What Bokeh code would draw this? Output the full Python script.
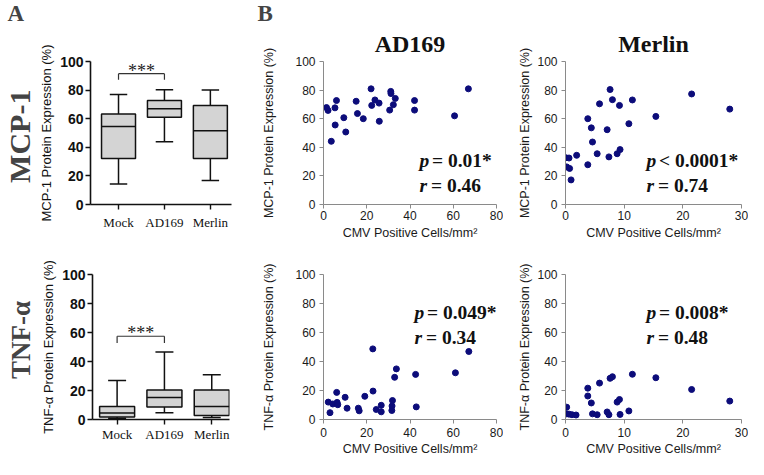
import math
from bokeh.plotting import figure
from bokeh.models import Label, FixedTicker, Range1d
from bokeh.layouts import row, column
from bokeh.embed import file_html
from bokeh.resources import INLINE

# ---------------- data ----------------
box_labels = ["Mock", "AD169", "Merlin"]
box_pos = [0, 1, 2]

mcp_min = [14.4, 43.8, 16.7]
mcp_q1 = [32.2, 61.0, 32.2]
mcp_med = [54.6, 67.0, 51.6]
mcp_q3 = [63.3, 72.7, 69.3]
mcp_max = [77.0, 80.3, 80.0]

tnf_min = [0.9, 4.6, 1.3]
tnf_q1 = [1.7, 8.6, 2.8]
tnf_med = [4.5, 15.2, 8.9]
tnf_q3 = [9.0, 20.3, 20.3]
tnf_max = [26.9, 46.5, 30.8]

mcp_bracket = [91.5, 87.3]   # bracket level, bracket tick end
tnf_bracket = [57.4, 52.8]
mcp_star_y = 93.5
tnf_star_y = 59.5

ad_mcp_x = [1.4, 2.1, 3.6, 5.3, 5.4, 6.0, 9.4, 10.3, 15.1, 15.7, 18.4, 22.0, 22.3,
            23.8, 25.7, 25.8, 30.6, 31.1, 31.2, 32.3, 33.2, 42.1, 42.1, 60.6, 67.0]
ad_mcp_y = [67.8, 65.8, 44.2, 67.6, 55.6, 72.7, 60.7, 50.7, 72.2, 63.6, 60.0, 80.9, 69.3,
            73.1, 70.9, 58.2, 66.0, 79.1, 77.6, 69.8, 74.2, 72.7, 66.0, 62.0, 80.9]

me_mcp_x = [0.06, 0.6, 0.2, 0.7, 0.95, 1.9, 3.8, 3.8, 4.4, 4.6, 5.4, 5.8, 7.1, 7.4,
            7.6, 8.0, 8.8, 9.2, 9.3, 10.8, 11.4, 15.4, 21.5, 28.0]
me_mcp_y = [32.7, 32.5, 26.3, 25.2, 17.2, 34.4, 60.0, 27.8, 53.6, 43.7, 35.5, 70.4, 52.3, 33.3,
            80.4, 73.3, 35.5, 69.3, 38.4, 56.5, 73.1, 61.6, 77.3, 66.7]

ad_tnf_x = [2.2, 3.0, 4.3, 6.1, 6.3, 6.6, 10.0, 10.9, 16.1, 16.5, 19.1, 22.8, 22.9,
            24.4, 26.7, 26.7, 31.6, 31.7, 31.9, 32.9, 33.7, 42.6, 42.9, 61.0, 67.2]
ad_tnf_y = [12.0, 4.7, 10.7, 18.7, 11.8, 10.2, 15.3, 7.8, 7.8, 6.0, 16.0, 48.7, 19.6,
            6.9, 9.8, 5.3, 6.2, 9.3, 13.1, 29.1, 34.9, 31.1, 8.7, 32.2, 46.9]

me_tnf_x = [0.2, 0.2, 0.6, 1.1, 1.8, 3.8, 3.8, 4.4, 4.6, 5.4, 5.8, 7.1, 7.4, 7.6,
            8.0, 8.8, 9.2, 9.3, 10.8, 11.4, 15.4, 21.5, 28.0]
me_tnf_y = [8.5, 3.9, 3.7, 3.3, 3.1, 21.6, 16.2, 11.4, 3.9, 3.3, 25.1, 5.2, 3.3, 28.4,
            29.5, 12.0, 13.8, 3.5, 5.9, 31.2, 28.8, 20.7, 12.7]

stats = {
    "ad_mcp": ("=", "0.01", "0.46"),
    "me_mcp": ("<", "0.0001", "0.74"),
    "ad_tnf": ("=", "0.049", "0.34"),
    "me_tnf": ("=", "0.008", "0.48"),
}

panel_letters = ["A", "B"]
row_titles = ["MCP-1", "TNF-α"]
col_titles = ["AD169", "Merlin"]

SERIF = "Liberation Serif"
SANS = "Liberation Sans"
DOT = "#0c0c7a"


def make_fig(ox, oy, w, h, bl, br, bt, bb, xr, yr, axes=True):
    kw = {}
    if not axes:
        kw = dict(x_axis_location=None, y_axis_location=None)
    p = figure(width=w, height=h, min_border_left=bl, min_border_right=br,
               min_border_top=bt, min_border_bottom=bb,
               x_range=Range1d(*xr), y_range=Range1d(*yr),
               output_backend="svg", toolbar_location=None, tools="", **kw)
    p.outline_line_color = None
    p.grid.visible = False
    p.background_fill_color = "white"
    p.border_fill_color = "white"
    fl, fr = ox + bl, ox + w - br
    ft, fb = oy + bt, oy + h - bb

    def px(x):
        return xr[0] + (x - fl) / (fr - fl) * (xr[1] - xr[0])

    def py(y):
        return yr[0] + (fb - y) / (fb - ft) * (yr[1] - yr[0])
    return p, px, py


def style_box_axes(p, ylabel, xstand):
    for ax in (p.xaxis[0], p.yaxis[0]):
        ax.axis_line_color = "#111111"
        ax.axis_line_width = 1.6
        ax.major_tick_line_color = "#111111"
        ax.major_tick_line_width = 1.4
        ax.major_tick_out = 5
        ax.major_tick_in = 0
        ax.minor_tick_line_color = None
    p.yaxis.ticker = FixedTicker(ticks=[0, 20, 40, 60, 80, 100])
    p.yaxis.major_label_text_font = SANS
    p.yaxis.major_label_text_font_style = "bold"
    p.yaxis.major_label_text_font_size = "14px"
    p.yaxis.major_label_text_color = "#111111"
    p.yaxis.major_label_standoff = 2
    p.yaxis.axis_label = ylabel
    p.yaxis.axis_label_text_font = SANS
    p.yaxis.axis_label_text_font_style = "normal"
    p.yaxis.axis_label_text_font_size = "13px"
    p.yaxis.axis_label_text_color = "#111111"
    p.yaxis.axis_label_standoff = 3
    p.xaxis.ticker = FixedTicker(ticks=box_pos)
    p.xaxis.major_label_overrides = {k: v for k, v in zip(box_pos, box_labels)}
    p.xaxis.major_label_text_font = SERIF
    p.xaxis.major_label_text_font_size = "13px"
    p.xaxis.major_label_text_color = "#111111"
    p.xaxis.major_label_standoff = xstand


def draw_box(p, mn, q1, med, q3, mx, bracket, star_y):
    bw, cw = 0.74, 0.38
    lw = 1.5
    p.segment(x0=box_pos, y0=mn, x1=box_pos, y1=q1, line_color="#111111", line_width=lw)
    p.segment(x0=box_pos, y0=q3, x1=box_pos, y1=mx, line_color="#111111", line_width=lw)
    p.segment(x0=[x - cw / 2 for x in box_pos], y0=mn, x1=[x + cw / 2 for x in box_pos], y1=mn,
              line_color="#111111", line_width=lw)
    p.segment(x0=[x - cw / 2 for x in box_pos], y0=mx, x1=[x + cw / 2 for x in box_pos], y1=mx,
              line_color="#111111", line_width=lw)
    p.vbar(x=box_pos, width=bw, bottom=q1, top=q3, fill_color="#d4d4d4",
           line_color="#111111", line_width=lw)
    p.segment(x0=[x - bw / 2 for x in box_pos], y0=med, x1=[x + bw / 2 for x in box_pos], y1=med,
              line_color="#111111", line_width=lw)
    top, low = bracket
    p.segment(x0=[box_pos[0], box_pos[0], box_pos[1]], y0=[top, top, top],
              x1=[box_pos[1], box_pos[0], box_pos[1]], y1=[top, low, low],
              line_color="#333333", line_width=1.2)
    p.add_layout(Label(x=(box_pos[0] + box_pos[1]) / 2, y=star_y, text="***",
                       text_font=SERIF, text_font_size="18px", text_align="center",
                       text_baseline="alphabetic", text_color="#222222"))


def style_scatter_axes(p, ylabel, xticks, label_standoff, s1, s2):
    for ax in (p.xaxis[0], p.yaxis[0]):
        ax.axis_line_color = "#8a8a8a"
        ax.axis_line_width = 1
        ax.major_tick_line_color = "#8a8a8a"
        ax.major_tick_out = 4
        ax.major_tick_in = 0
        ax.minor_tick_line_color = None
        ax.major_label_text_font = SANS
        ax.major_label_text_font_size = "12px"
        ax.major_label_text_color = "#1a1a1a"
        ax.axis_label_text_font = SANS
        ax.axis_label_text_font_style = "normal"
        ax.axis_label_text_font_size = "12.5px"
        ax.axis_label_text_color = "#1a1a1a"
    p.yaxis.ticker = FixedTicker(ticks=[0, 20, 40, 60, 80, 100])
    p.xaxis.ticker = FixedTicker(ticks=xticks)
    p.yaxis.major_label_standoff = 4
    p.xaxis.major_label_standoff = s1
    p.yaxis.axis_label = ylabel
    p.yaxis.axis_label_standoff = label_standoff
    p.xaxis.axis_label = "CMV Positive Cells/mm²"
    p.xaxis.axis_label_standoff = s2


def set_col_title(p, text):
    p.title.text = text
    p.title.align = "center"
    p.title.text_font = SERIF
    p.title.text_font_size = "24px"
    p.title.text_font_style = "bold"
    p.title.text_color = "#111111"
    p.title.standoff = 9


def add_stats(p, px, py, x0, base1, base2, key):
    op, pv, rv = stats[key]
    fs = "19.5px"
    p.add_layout(Label(x=px(x0), y=py(base1), text="p", text_font=SERIF, text_font_size=fs,
                       text_font_style="bold italic", text_baseline="alphabetic", text_color="#111111"))
    p.add_layout(Label(x=px(x0 + 12.5), y=py(base1), text=f"{op} {pv}*", text_font=SERIF,
                       text_font_size=fs, text_font_style="bold", text_baseline="alphabetic",
                       text_color="#111111"))
    p.add_layout(Label(x=px(x0), y=py(base2), text="r", text_font=SERIF, text_font_size=fs,
                       text_font_style="bold italic", text_baseline="alphabetic", text_color="#111111"))
    p.add_layout(Label(x=px(x0 + 11.5), y=py(base2), text=f"= {rv}", text_font=SERIF,
                       text_font_size=fs, text_font_style="bold", text_baseline="alphabetic",
                       text_color="#111111"))


# ---------------- layout geometry (picture px, origin at top-left) ----------------
WS, WB, W2, W3 = 36, 211, 256, 245
HH, H1, H2 = 24, 220, 215
XS, XB, X2, X3 = 0, WS, WS + WB, WS + WB + W2
YH, Y1, Y2 = 0, HH, HH + H1
TOTW = WS + WB + W2 + W3

# ---- header with panel letters
ph, pxh, pyh = make_fig(0, YH, TOTW, HH, 0, 0, 0, 0, (0, TOTW), (0, HH), axes=False)
ph.add_layout(Label(x=pxh(7), y=pyh(12.5), text=panel_letters[0], text_font=SERIF, text_font_size="23px",
                    text_font_style="bold", text_baseline="middle", text_align="left"))
ph.add_layout(Label(x=pxh(257), y=pyh(12.5), text=panel_letters[1], text_font=SERIF, text_font_size="23px",
                    text_font_style="bold", text_baseline="middle", text_align="left"))

# ---- row strips with rotated row titles
ps1, pxs1, pys1 = make_fig(XS, Y1, WS, H1, 0, 0, 0, 0, (0, WS), (0, H1), axes=False)
ps1.add_layout(Label(x=pxs1(35), y=pys1(139), text=row_titles[0], text_font=SERIF, text_font_size="30px",
                     text_font_style="bold", angle=math.pi / 2, text_align="center",
                     text_baseline="bottom"))
ps2, pxs2, pys2 = make_fig(XS, Y2, WS, H2, 0, 0, 0, 0, (0, WS), (0, H2), axes=False)
ps2.add_layout(Label(x=pxs2(35), y=pys2(341), text=row_titles[1], text_font=SERIF, text_font_size="27px",
                     text_font_style="bold", angle=math.pi / 2, text_align="center",
                     text_baseline="bottom"))

# ---- A top: MCP-1 box plot
pa1, pxa1, pya1 = make_fig(XB, Y1, WB, H1, 86 - XB, 16, 60 - Y1, 40, (-0.61, 2.46), (0, 100))
style_box_axes(pa1, "MCP-1 Protein Expression (%)", 5)
draw_box(pa1, mcp_min, mcp_q1, mcp_med, mcp_q3, mcp_max, mcp_bracket, mcp_star_y)

# ---- B top AD169
pb1, pxb1, pyb1 = make_fig(X2, Y1, W2, H1, 323 - X2, 7, 61 - Y1, 39, (0, 80), (0, 100))
style_scatter_axes(pb1, "MCP-1 Protein Expression (%)", [0, 20, 40, 60, 80], 16, 2, 3)
set_col_title(pb1, col_titles[0])
pb1.scatter(ad_mcp_x, ad_mcp_y, size=6, color=DOT)
add_stats(pb1, pxb1, pyb1, 419, 161, 186, "ad_mcp")

# ---- B top Merlin
pc1, pxc1, pyc1 = make_fig(X3, Y1, W3, H1, 565 - X3, 7, 61 - Y1, 39, (0, 30), (0, 100))
style_scatter_axes(pc1, "MCP-1 Protein Expression (%)", [0, 10, 20, 30], 2, 2, 3)
set_col_title(pc1, col_titles[1])
pc1.scatter(me_mcp_x, me_mcp_y, size=6, color=DOT)
add_stats(pc1, pxc1, pyc1, 646, 161, 186, "me_mcp")

# ---- A bottom: TNF box plot
pa2, pxa2, pya2 = make_fig(XB, Y2, WB, H2, 92 - XB, 18, 272 - Y2, 39, (-0.52, 2.375), (0, 100))
style_box_axes(pa2, "TNF-α Protein Expression (%)", 2)
draw_box(pa2, tnf_min, tnf_q1, tnf_med, tnf_q3, tnf_max, tnf_bracket, tnf_star_y)

# ---- B bottom AD169
pb2, pxb2, pyb2 = make_fig(X2, Y2, W2, H2, 323 - X2, 7, 274 - Y2, 40, (0, 80), (0, 100))
style_scatter_axes(pb2, "TNF-α Protein Expression (%)", [0, 20, 40, 60, 80], 16, 4, 2)
pb2.scatter(ad_tnf_x, ad_tnf_y, size=6, color=DOT)
add_stats(pb2, pxb2, pyb2, 414, 312, 337, "ad_tnf")

# ---- B bottom Merlin
pc2, pxc2, pyc2 = make_fig(X3, Y2, W3, H2, 565 - X3, 7, 274 - Y2, 40, (0, 30), (0, 100))
style_scatter_axes(pc2, "TNF-α Protein Expression (%)", [0, 10, 20, 30], 2, 4, 2)
pc2.scatter(me_tnf_x, me_tnf_y, size=6, color=DOT)
add_stats(pc2, pxc2, pyc2, 646, 312, 337, "me_tnf")

layout = column(
    ph,
    row(ps1, pa1, pb1, pc1, spacing=0),
    row(ps2, pa2, pb2, pc2, spacing=0),
    spacing=0,
)

open("out.html", "w").write(file_html(layout, INLINE))
